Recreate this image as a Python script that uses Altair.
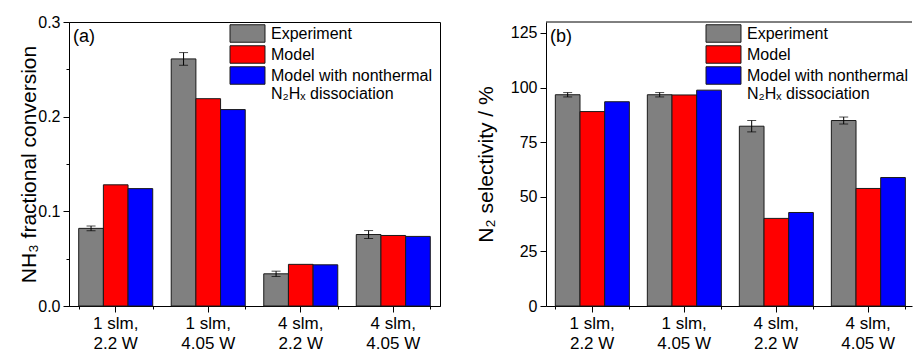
import altair as alt
import pandas as pd

categories = ["1 slm, 2.2 W", "1 slm, 4.05 W", "4 slm, 2.2 W", "4 slm, 4.05 W"]
series_names = ["Experiment", "Model", "Model with nonthermal\nN₂Hₓ dissociation"]
series_colors = ["#808080", "#ff0000", "#0000ff"]

# (a) NH3 fractional conversion
conv_exp = [0.082, 0.261, 0.034, 0.0755]
conv_exp_err = [0.0025, 0.0067, 0.0028, 0.0042]
conv_model = [0.128, 0.219, 0.044, 0.0745]
conv_nonthermal = [0.124, 0.2075, 0.0435, 0.0735]

# (b) N2 selectivity / %
sel_exp = [96.7, 96.7, 82.3, 84.9]
sel_exp_err = [1.0, 1.0, 2.6, 1.6]
sel_model = [89.0, 96.6, 40.1, 53.8]
sel_nonthermal = [93.5, 98.8, 42.8, 58.8]

conv_ticks = [0, 0.05, 0.1, 0.15, 0.2, 0.25, 0.3]
sel_ticks = [0, 12.5, 25, 37.5, 50, 62.5, 75, 87.5, 100, 112.5, 125]


def long_table(exp, err, model, nt):
    rows = []
    for i, c in enumerate(categories):
        rows.append(dict(cat=c, series=series_names[0], value=exp[i],
                         lo=exp[i] - err[i], hi=exp[i] + err[i]))
        rows.append(dict(cat=c, series=series_names[1], value=model[i]))
        rows.append(dict(cat=c, series=series_names[2], value=nt[i]))
    return pd.DataFrame(rows)


FONT = "Liberation Sans"
EDGE = "#1a1a1a"


def panel(df, ymax, yvals, label_expr, minor_test, ytitle, tag, width,
          pouter, align, legend_x, title_pad, box):
    xscale = alt.Scale(domain=categories, paddingInner=0.2,
                       paddingOuter=pouter, align=align)
    x_main = alt.X("cat:N", scale=xscale, sort=categories, title=None,
                   axis=alt.Axis(labelExpr="[split(datum.label, ', ')[0] + ',', split(datum.label, ', ')[1]]",
                                 labelAngle=0, labelFontSize=17, labelLineHeight=20,
                                 labelPadding=3, tickSize=6, labelColor="black",
                                 domainColor="black", tickColor="black", orient="bottom"))
    x_none = alt.X("cat:N", scale=xscale, sort=categories, axis=None)
    x_minor = alt.X("cat:N", scale=xscale, sort=categories, title=None,
                    axis=alt.Axis(tickBand="extent", labels=False, domain=False,
                                  tickSize=3, tickColor="black", orient="bottom"))
    xoff = alt.XOffset("series:N", scale=alt.Scale(domain=series_names,
                                                   paddingInner=0, paddingOuter=0))
    y = alt.Y("value:Q", scale=alt.Scale(domain=[0, ymax], nice=False, zero=True),
              axis=alt.Axis(values=yvals, labelExpr=label_expr,
                            tickSize={"condition": {"test": minor_test, "value": 3}, "value": 6},
                            title=ytitle, titleFontSize=21, titleFontWeight="normal",
                            titlePadding=title_pad, labelFontSize=16, labelPadding=3,
                            grid=False, labelColor="black", titleColor="black",
                            domainColor="black", tickColor="black"))
    color = alt.Color("series:N",
                      scale=alt.Scale(domain=series_names, range=series_colors),
                      legend=alt.Legend(orient="none", legendX=legend_x, legendY=2,
                                        title=None, symbolType="M-2,-1H2V1H-2Z",
                                        symbolSize=306, symbolStrokeColor=EDGE,
                                        symbolStrokeWidth=1, symbolOpacity=1,
                                        labelFontSize=16, labelOffset=14,
                                        labelExpr="split(datum.label, '\\n')",
                                        labelLimit=400, rowPadding=-5,
                                        labelColor="black"))
    base = alt.Chart(df)
    bars = base.mark_bar(stroke=EDGE, strokeWidth=1).encode(
        x=x_main, xOffset=xoff, y=y, color=color)
    minor = base.mark_bar(opacity=0).encode(x=x_minor)
    err = base.transform_filter(alt.datum.series == series_names[0])
    rule = err.mark_rule(color="black", strokeWidth=1).encode(
        x=x_none, xOffset=xoff, y=alt.Y("lo:Q"), y2="hi:Q")
    cap_lo = err.mark_tick(color="black", thickness=1, size=9, orient="horizontal").encode(
        x=x_none, xOffset=xoff, y=alt.Y("lo:Q"))
    cap_hi = err.mark_tick(color="black", thickness=1, size=9, orient="horizontal").encode(
        x=x_none, xOffset=xoff, y=alt.Y("hi:Q"))
    tag_df = pd.DataFrame({"t": [tag]})
    label = alt.Chart(tag_df).mark_text(align="left", baseline="middle", fontSize=18,
                                        font=FONT, color="black").encode(
        text="t:N", x=alt.value(4), y=alt.value(15))
    layers = [bars, minor, rule, cap_lo, cap_hi, label]
    if not box:
        top_df = pd.DataFrame({"v": [ymax]})
        top = alt.Chart(top_df).mark_rule(color="black", strokeWidth=1).encode(
            y=alt.datum(ymax))
        layers.append(top)
    ch = alt.layer(*layers).resolve_axis(x="independent").properties(width=width, height=284)
    if not box:
        ch = ch.properties(view=alt.ViewBackground(stroke="transparent"))
    return ch


conv_df = long_table(conv_exp, conv_exp_err, conv_model, conv_nonthermal)
sel_df = long_table(sel_exp, sel_exp_err, sel_model, sel_nonthermal)

pa = panel(conv_df, 0.3, conv_ticks,
           "round(datum.value*20) % 2 == 0 ? format(datum.value, '.1f') : ''",
           "round(datum.value*20) % 2 == 1",
           "NH₃ fractional conversion", "(a)", 371, 0.105, 0.5, 169, -2, True)
pb = panel(sel_df, 130, sel_ticks,
           "datum.value % 25 == 0 ? format(datum.value, 'd') : ''",
           "datum.value % 25 != 0",
           "N₂ selectivity / %", "(b)", 366, 0.089, 0.57, 168, 14, False)

chart = alt.hconcat(pa, pb, spacing=106, bounds="flush").resolve_legend(
    color="independent").resolve_scale(y="independent").properties(
    padding={"left": 18, "top": 13, "right": 0, "bottom": 0}
).configure(font=FONT).configure_view(stroke="black", strokeWidth=1).configure_axis(
    labelFont=FONT, titleFont=FONT).configure_legend(labelFont=FONT)

chart.save("out.html", embed_options={"renderer": "svg", "actions": False})
